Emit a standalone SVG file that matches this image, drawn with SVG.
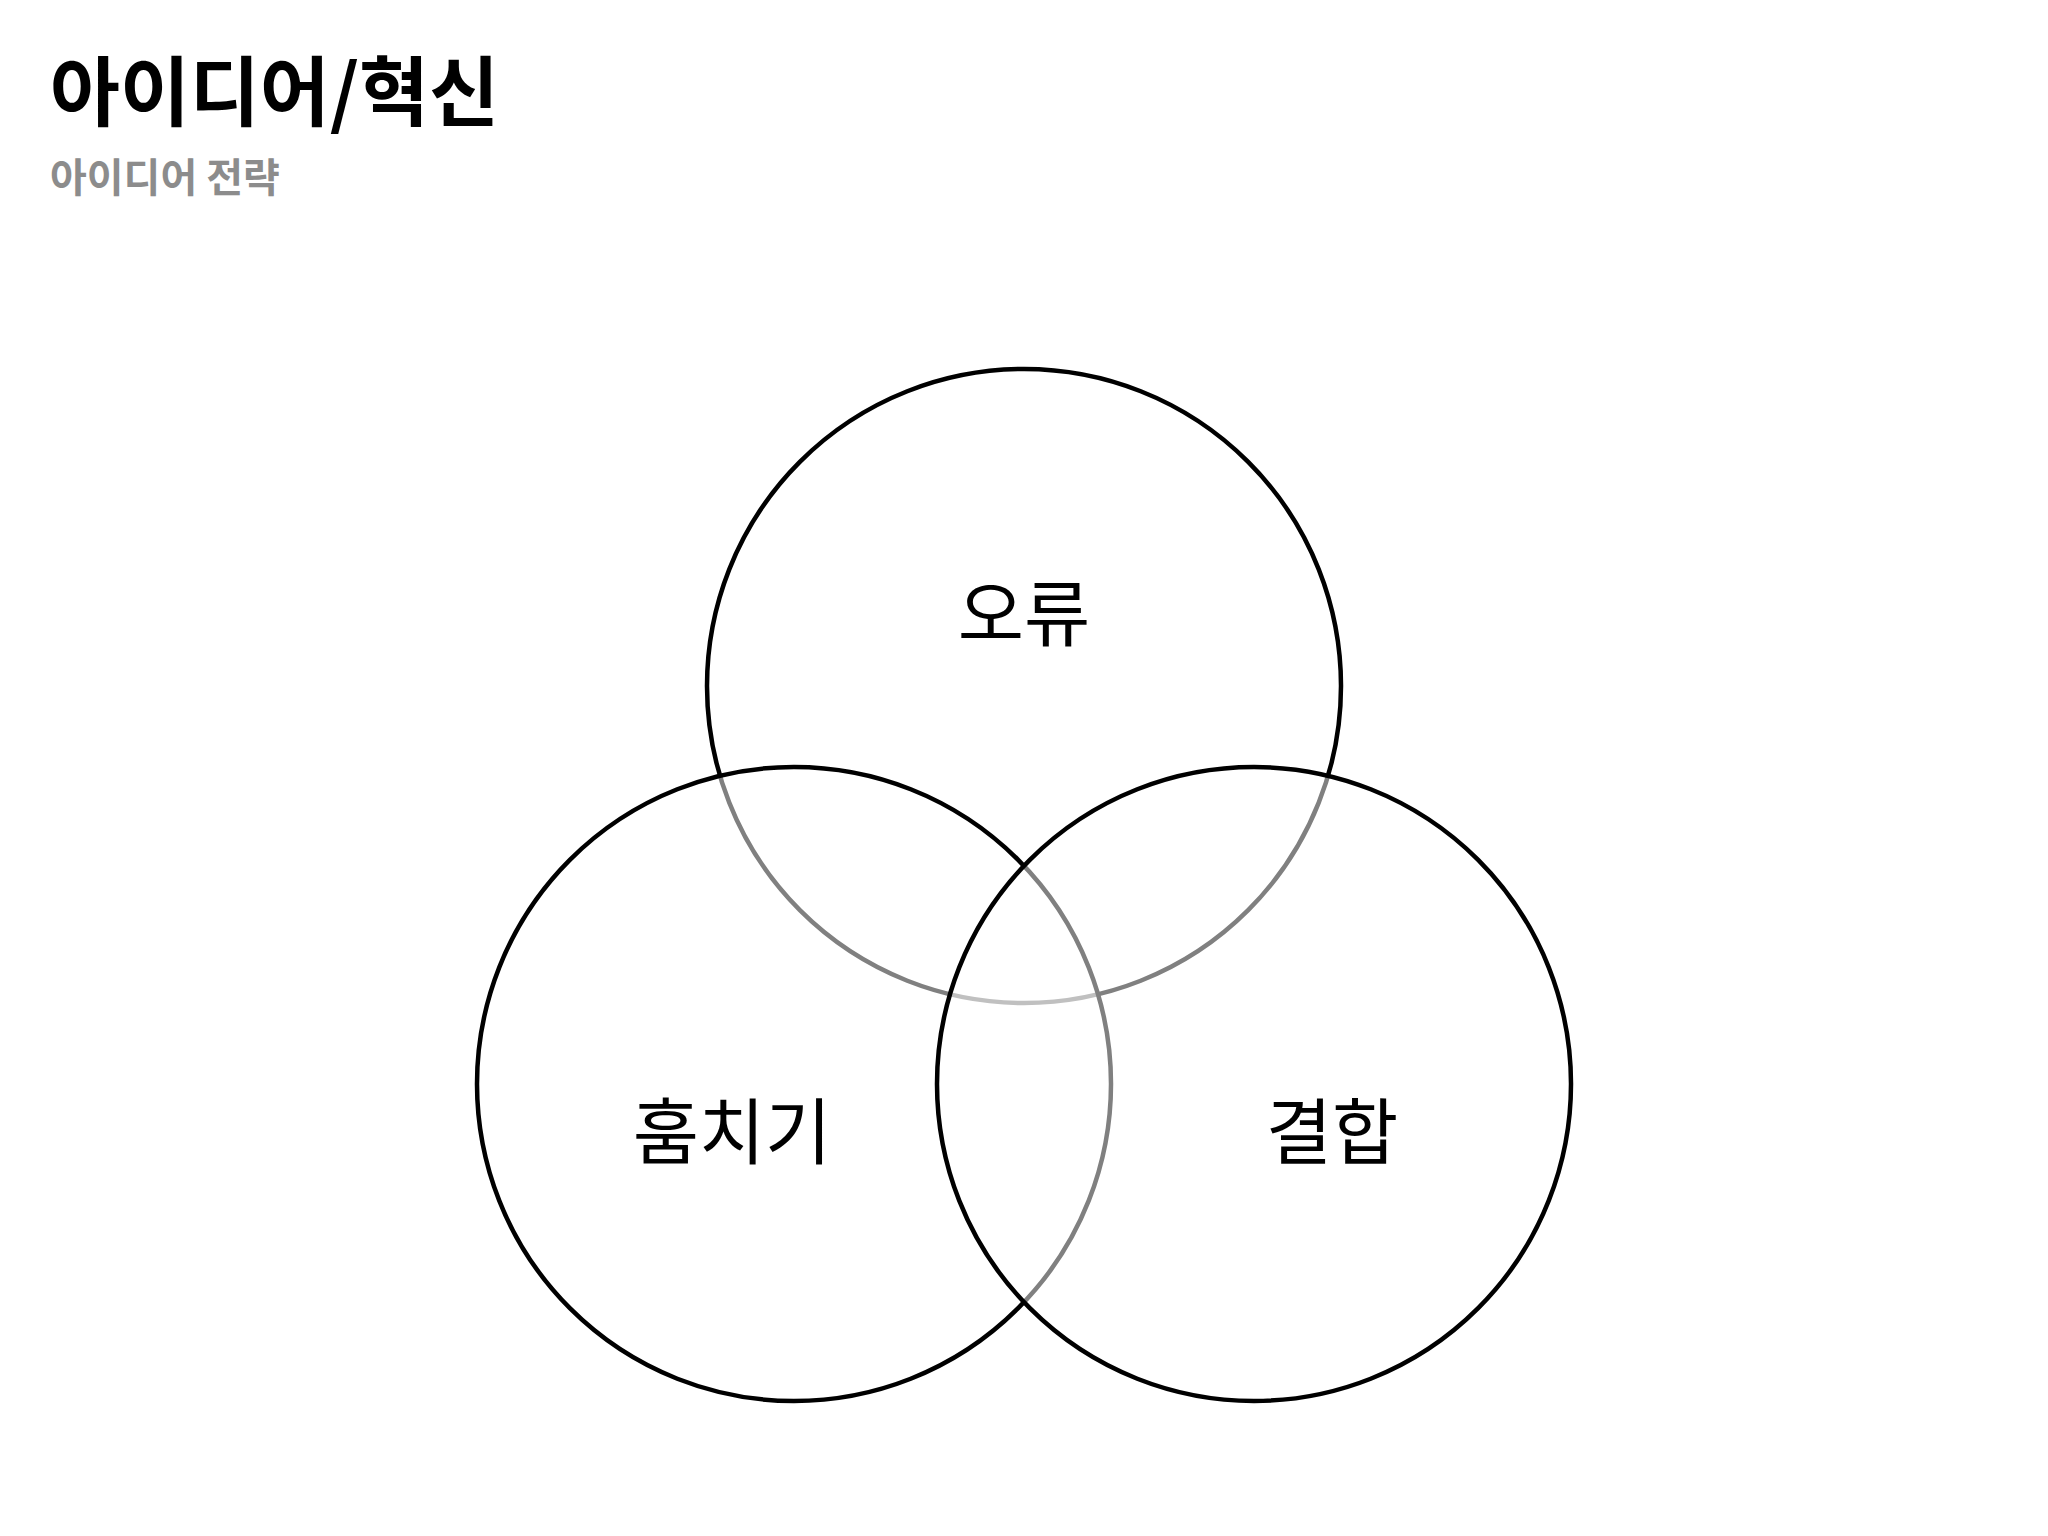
<svg xmlns="http://www.w3.org/2000/svg" width="2048" height="1536" viewBox="0 0 2048 1536">
<style>
.c{fill:#fff;fill-opacity:0.5;stroke:#000;stroke-width:4.5}
.t{font-family:"Noto Sans CJK KR","Noto Sans",sans-serif}
.lbl{font-size:72px;text-anchor:middle;fill:#000}
</style>
<rect width="2048" height="1536" fill="#fff"/>
<text class="t" x="50" y="120" font-size="76" font-weight="bold" fill="#000">아이디어/혁신</text>
<text class="t" x="50" y="192" font-size="40" font-weight="bold" fill="#8c8c8c">아이디어 전략</text>
<g id="connectors"></g>
<g id="node-top"><circle class="c" cx="1024" cy="686" r="317"/></g>
<g id="node-left"><circle class="c" cx="794" cy="1084" r="317"/></g>
<g id="node-right"><circle class="c" cx="1254" cy="1084" r="317"/></g>
<g id="labels">
<text class="t lbl" x="1024" y="640">오류</text>
<text class="t lbl" x="732" y="1158">훔치기</text>
<text class="t lbl" x="1332" y="1158">결합</text>
</g>
</svg>
